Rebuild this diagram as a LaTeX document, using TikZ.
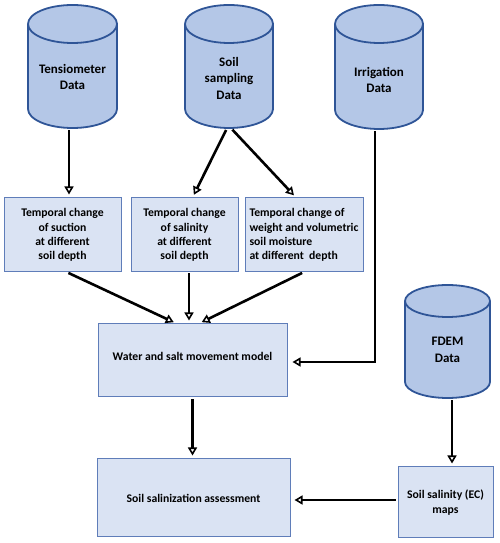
\documentclass[tikz,border=0pt]{standalone}
\usepackage{fontspec}
\setmainfont{Carlito}
\usetikzlibrary{arrows.meta,calc}
\definecolor{cylfill}{HTML}{B4C7E7}
\definecolor{cylline}{HTML}{2F5597}
\definecolor{boxfill}{HTML}{DAE3F3}
\definecolor{boxline}{RGB}{95,125,185}
\tikzset{
  cylbody/.style={fill=cylfill, draw=cylline, line width=1.8pt, line join=round},
  cylarea/.style={rectangle, draw=none, inner sep=0pt},
  cyltext/.style={font=\fontsize{13}{16.5}\selectfont\bfseries, align=center, inner sep=0pt},
  procbox/.style={rectangle, fill=boxfill, draw=boxline, line width=1pt, font=\fontsize{11.7}{14.3}\selectfont\bfseries, align=center, inner sep=2pt},
  flow/.style={line width=2.6pt, -{Triangle[open,length=8pt,width=9pt,line width=1.6pt]}, shorten >=3pt, shorten <=2pt}
}
\newcommand\dbcyl[6]{% name, cx, ytop, ybot, halfwidth, ry
  \path[cylbody] (#2-#5,#3-#6) arc[start angle=180,end angle=0,x radius=#5,y radius=#6] -- (#2+#5,#4+#6) arc[start angle=0,end angle=-180,x radius=#5,y radius=#6] -- cycle;
  \draw[cylbody, fill=none] (#2-#5,#3-#6) arc[start angle=180,end angle=360,x radius=#5,y radius=#6];
  \node[cylarea, minimum width={2*#5}, minimum height={#3-#4}] (#1) at (#2,{(#3+#4)/2}) {};
}
\begin{document}
\begin{tikzpicture}[x=1pt,y=1pt]
\useasboundingbox (0,0) rectangle (500,543);
% databases
\dbcyl{tens}{72.5}{538}{415}{44.5}{19}
\dbcyl{soil}{229}{538}{415}{44}{19}
\dbcyl{irr}{379}{538}{414}{44}{19}
\dbcyl{fdem}{447.5}{258}{145}{42.5}{16}
\node[cyltext] (tensT) at (72.5,466) {Tensiometer\\Data};
\node[cyltext] (soilT) at (229,465) {Soil\\sampling\\Data};
\node[cyltext] (irrT) at (379,463) {Irrigation\\Data};
\node[cyltext] (fdemT) at (447.5,193) {FDEM\\Data};
% process boxes
\node[procbox, minimum width=117, minimum height=74] (A) at (62.5,308) {Temporal change\\of suction\\at different\\soil depth};
\node[procbox, minimum width=107, minimum height=74] (B) at (184.5,308) {Temporal change\\of salinity\\at different\\soil depth};
\node[procbox, minimum width=118, minimum height=74, align=left] (C) at (304,308) {Temporal change of\\weight and volumetric\\soil moisture\\at different\ \ depth};
\node[procbox, minimum width=189, minimum height=73] (model) at (192.5,182.5) {\raisebox{9pt}{Water and salt movement model}};
\node[procbox, minimum width=193, minimum height=78] (assess) at (193.5,45) {Soil salinization assessment};
\node[procbox, minimum width=95, minimum height=71] (ec) at (445.5,40.5) {Soil salinity (EC)\\maps};
% connectors
\draw[flow] ([xshift=-3.5pt]tens.south) -- ([xshift=-3.5pt]tens.south |- A.north);
\draw[flow] ([xshift=-2pt]soil.south) -- ([xshift=8pt]B.north);
\draw[flow] ([xshift=2pt]soil.south) -- ([xshift=-8pt]C.north);
\draw[flow, shorten <=1pt] ([xshift=5pt]A.south) -- ([xshift=-16pt]model.north);
\draw[flow, shorten <=1pt] ([xshift=4.5pt]B.south) -- ([xshift=-3.5pt]model.north);
\draw[flow, shorten <=1pt] ([xshift=-1pt]C.south) -- ([xshift=6.5pt]model.north);
\draw[flow, shorten >=5pt] ([xshift=-4pt]irr.south) |- ([yshift=-1.5pt]model.east);
\draw[flow] (model.south) -- (model.south |- assess.north);
\draw[flow] ([xshift=4.5pt]fdem.south) -- ([xshift=4.5pt]fdem.south |- ec.north);
\draw[flow, shorten >=4pt] ([yshift=2.5pt]ec.west) -- ([yshift=2.5pt]ec.west -| assess.east);
\end{tikzpicture}
\end{document}
